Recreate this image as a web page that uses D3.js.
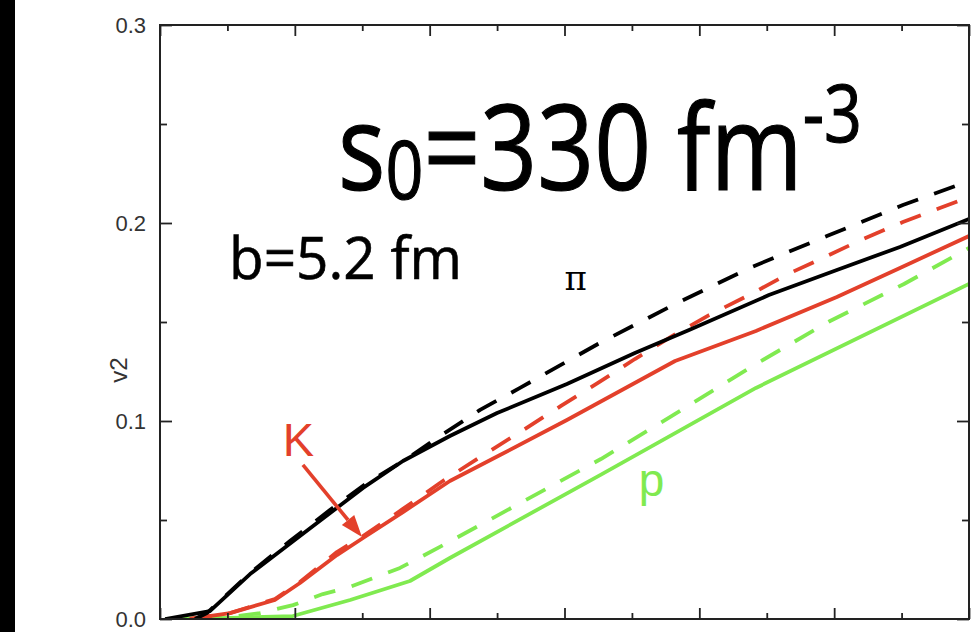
<!DOCTYPE html>
<html><head><meta charset="utf-8">
<script src="https://cdn.jsdelivr.net/npm/d3@7"></script>
<style>html,body{margin:0;padding:0;background:#fff;overflow:hidden}</style>
</head><body><svg id="c" width="976" height="632"></svg>
<script>
// ---- axis ticks ----
const xTicksMajor = [0, 0.5, 1, 1.5, 2, 2.5, 3];
const xTicksMinor = [0.25, 0.75, 1.25, 1.75, 2.25, 2.75];
const yTicksMajor = [0, 0.1, 0.2, 0.3];
const yTickLabels = ["0.0", "0.1", "0.2", "0.3"];
const yTicksMinor = [0.05, 0.15, 0.25];

// ---- series (pT, v2) ----
const piSolidX = [0.019, 0.185, 0.334, 0.519, 0.753, 0.901, 1.075, 1.250, 1.509, 1.761, 1.962, 2.258, 2.51, 2.744, 3.0];
const piSolidY = [0, 0.004, 0.0227, 0.0419, 0.0662, 0.0798, 0.0924, 0.1040, 0.1187, 0.1343, 0.146, 0.1636, 0.1763, 0.1879, 0.202];

const piDashX = [0.13, 0.174, 0.334, 0.482, 0.63, 0.768, 0.916, 1.038, 1.187, 1.335, 1.624, 1.91, 2.195, 2.473, 2.755, 3.0];
const piDashY = [0, 0.003, 0.0232, 0.0394, 0.055, 0.0687, 0.0810, 0.0924, 0.1056, 0.1167, 0.1389, 0.1591, 0.1778, 0.1934, 0.2091, 0.2212];

const kSolidX = [0.111, 0.26, 0.426, 0.519, 0.656, 0.753, 0.901, 1.075, 1.261, 1.509, 1.91, 2.21, 2.51, 2.744, 3.0];
const kSolidY = [0, 0.003, 0.0096, 0.0182, 0.0323, 0.0409, 0.054, 0.0697, 0.0828, 0.1005, 0.1303, 0.1455, 0.1626, 0.1773, 0.1934];

const kDashX = [0.111, 0.26, 0.426, 0.519, 0.656, 0.753, 0.901, 1.038, 1.187, 1.335, 1.487, 1.624, 1.761, 1.899, 2.036, 2.184, 2.336, 2.473, 2.607, 2.755, 2.892, 3.0];
const kDashY = [0, 0.003, 0.0101, 0.0187, 0.0338, 0.0419, 0.0556, 0.0687, 0.0818, 0.0944, 0.1076, 0.1192, 0.1313, 0.1429, 0.1535, 0.1636, 0.1747, 0.1833, 0.1919, 0.2005, 0.2076, 0.2131];

const pSolidX = [0.019, 0.26, 0.493, 0.705, 0.927, 1.075, 1.632, 2.21, 3.0];
const pSolidY = [0, 0.0005, 0.0015, 0.0096, 0.0192, 0.0308, 0.0727, 0.1167, 0.1692];

const pDashX = [0.148, 0.26, 0.371, 0.493, 0.604, 0.705, 0.89, 1.038, 1.35, 1.635, 1.921, 2.21, 2.485, 2.759, 3.0];
const pDashY = [0, 0.001, 0.003, 0.007, 0.0126, 0.0162, 0.0258, 0.0364, 0.0596, 0.0808, 0.1045, 0.1288, 0.1505, 0.1692, 0.1874];

const RED = "#e3402b", GREEN = "#80ea50", BLACK = "#000";
const series = [
  {x: pSolidX, y: pSolidY, color: GREEN, dash: null},
  {x: pDashX, y: pDashY, color: GREEN, dash: "22,17"},
  {x: kSolidX, y: kSolidY, color: RED, dash: null},
  {x: kDashX, y: kDashY, color: RED, dash: "22,17"},
  {x: piSolidX, y: piSolidY, color: BLACK, dash: null},
  {x: piDashX, y: piDashY, color: BLACK, dash: "22,17"}
];

const svg = d3.select("#c");
const L = 160, R = 969, T = 25, B = 619;
const x = d3.scaleLinear().domain([0, 3]).range([L, R]);
const y = d3.scaleLinear().domain([0, 0.3]).range([B, T]);

// black bar at left edge
svg.append("rect").attr("x", 0).attr("y", 0).attr("width", 15).attr("height", 632).attr("fill", "#000");

svg.append("clipPath").attr("id", "clip").append("rect")
  .attr("x", L).attr("y", T).attr("width", R - L).attr("height", B - T);

const line = d3.line().x(d => x(d[0])).y(d => y(d[1]));
const g = svg.append("g").attr("clip-path", "url(#clip)");
series.forEach(s => {
  g.append("path")
    .attr("d", line(s.x.map((v, i) => [v, s.y[i]])))
    .attr("fill", "none")
    .attr("stroke", s.color)
    .attr("stroke-width", 3.8)
    .attr("stroke-linejoin", "round")
    .attr("stroke-dasharray", s.dash);
});

// axes (ticks inward, mirrored)
const axCol = "#222";
function ticks(axisGen, tr, vals, size) {
  const a = svg.append("g").attr("transform", tr)
    .call(axisGen.tickValues(vals).tickSize(size).tickFormat(""));
  a.select(".domain").remove();
  a.selectAll("line").attr("stroke", axCol).attr("stroke-width", 1.8);
  a.selectAll("text").remove();
}
ticks(d3.axisTop(x), `translate(0,${B})`, xTicksMajor, 11);
ticks(d3.axisTop(x), `translate(0,${B})`, xTicksMinor, 6);
ticks(d3.axisBottom(x), `translate(0,${T})`, xTicksMajor, 11);
ticks(d3.axisBottom(x), `translate(0,${T})`, xTicksMinor, 6);
ticks(d3.axisRight(y), `translate(${L},0)`, yTicksMajor, 12);
ticks(d3.axisRight(y), `translate(${L},0)`, yTicksMinor, 7);
ticks(d3.axisLeft(y), `translate(${R},0)`, yTicksMajor, 12);
ticks(d3.axisLeft(y), `translate(${R},0)`, yTicksMinor, 7);

svg.append("rect").attr("x", L).attr("y", T).attr("width", R - L).attr("height", B - T)
  .attr("fill", "none").attr("stroke", axCol).attr("stroke-width", 2);

// y tick labels
svg.append("g").selectAll("text").data(yTicksMajor).join("text")
  .attr("x", 146).attr("y", d => y(d)).attr("dy", "0.36em")
  .attr("text-anchor", "end")
  .attr("font-family", "Liberation Sans, Arial, sans-serif").attr("font-size", 22)
  .attr("fill", "#333")
  .text((d, i) => yTickLabels[i]);

// y axis title
svg.append("text")
  .attr("transform", "translate(127,370) rotate(-90)")
  .attr("text-anchor", "middle")
  .attr("font-family", "Liberation Sans, Arial, sans-serif").attr("font-size", 24)
  .attr("fill", "#333").text("v2");

// big annotation  s0=330 fm-3
const big = svg.append("text")
  .attr("font-family", "Open Sans, sans-serif").attr("font-size", 120).attr("fill", "#000")
  .attr("stroke", "#000").attr("stroke-width", 1.2);
big.append("tspan").text("s");
big.append("tspan").attr("font-size", 80).attr("dy", 9).text("0");
big.append("tspan").attr("dy", -9).text("=330 fm");
big.append("tspan").attr("font-size", 80).attr("dy", -48).text("-3");
{
  const w = big.node().getComputedTextLength();
  big.attr("transform", `translate(338,190) scale(${524 / w},1)`);
}

const bt = svg.append("text")
  .attr("font-family", "Open Sans, sans-serif").attr("font-size", 58).attr("fill", "#000")
  .attr("stroke", "#000").attr("stroke-width", 0.6)
  .text("b=5.2 fm");
{
  const w = bt.node().getComputedTextLength();
  bt.attr("transform", `translate(229,279) scale(${233 / w},1)`);
}

// curve labels
svg.append("text").attr("x", x(1.5)).attr("y", y(0.166))
  .attr("font-family", "DejaVu Serif, Liberation Serif, serif").attr("font-size", 34)
  .attr("fill", "#000").text("π");
svg.append("text").attr("x", x(0.455)).attr("y", y(0.0823))
  .attr("font-family", "Liberation Sans, Arial, sans-serif").attr("font-size", 47)
  .attr("fill", RED).text("K");
svg.append("text").attr("x", x(1.775)).attr("y", y(0.062))
  .attr("font-family", "Liberation Sans, Arial, sans-serif").attr("font-size", 46)
  .attr("fill", GREEN).text("p");

// K arrow
const a0 = [x(0.53), y(0.0778)], a1 = [x(0.749), y(0.0414)];
const ang = Math.atan2(a1[1] - a0[1], a1[0] - a0[0]);
const hl = 22, hw = 8;
const base = [a1[0] - hl * Math.cos(ang), a1[1] - hl * Math.sin(ang)];
svg.append("line").attr("x1", a0[0]).attr("y1", a0[1]).attr("x2", base[0]).attr("y2", base[1])
  .attr("stroke", RED).attr("stroke-width", 3.6);
svg.append("path")
  .attr("d", `M${a1[0]},${a1[1]} L${base[0] + hw * Math.sin(ang)},${base[1] - hw * Math.cos(ang)} L${base[0] - hw * Math.sin(ang)},${base[1] + hw * Math.cos(ang)} Z`)
  .attr("fill", RED);
</script>
</body></html>
